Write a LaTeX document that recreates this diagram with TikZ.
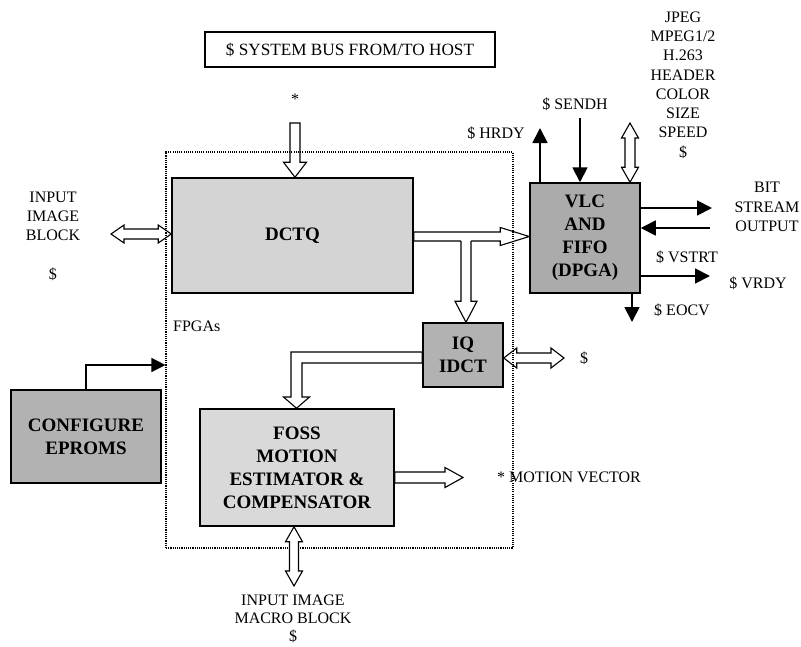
\documentclass[tikz,border=0pt]{standalone}
\usepackage{fontspec}
\setmainfont{Liberation Serif}
\usetikzlibrary{calc,arrows.meta}

\newcommand\lblfont{\fontsize{16}{19.3}\selectfont}
\newcommand\tightfont{\fontsize{16}{18.2}\selectfont}
\newcommand\busfont{\fontsize{17.2}{20}\selectfont}
\newcommand\blkfont{\fontsize{19}{23}\selectfont\bfseries}

% outlined arrow with one head: from #1 to #2, half shaft #3, half head #4, head length #5
\newcommand\hollowsingle[5]{%
  \coordinate (hsc) at ($(#2)!#5!(#1)$);
  \draw[hollow] ($(#1)!#3!90:(#2)$) -- ($(hsc)!#3!90:(#2)$) -- ($(hsc)!#4!90:(#2)$)
    -- (#2) -- ($(hsc)!#4!-90:(#2)$) -- ($(hsc)!#3!-90:(#2)$) -- ($(#1)!#3!-90:(#2)$) -- cycle;}

% outlined arrow with a head at both ends
\newcommand\hollowdouble[5]{%
  \coordinate (hda) at ($(#1)!#5!(#2)$);
  \coordinate (hdb) at ($(#2)!#5!(#1)$);
  \draw[hollow] (#1) -- ($(hda)!#4!90:(#2)$) -- ($(hda)!#3!90:(#2)$) -- ($(hdb)!#3!90:(#2)$)
    -- ($(hdb)!#4!90:(#2)$) -- (#2) -- ($(hdb)!#4!-90:(#2)$) -- ($(hdb)!#3!-90:(#2)$)
    -- ($(hda)!#3!-90:(#2)$) -- ($(hda)!#4!-90:(#2)$) -- cycle;}

\tikzset{
  blk/.style={draw, line width=1.5pt, align=center, font=\blkfont, inner sep=0pt},
  hollow/.style={draw, fill=white, line width=1.1pt, line join=miter},
  solidarr/.style={line width=1.8pt, -{Triangle[length=15pt,width=15pt]}},
  lbl/.style={font=\lblfont, align=center, inner sep=0pt},
  fpgabox/.style={draw, line width=1.1pt, dash pattern=on 1.1pt off 1.1pt, inner sep=0pt},
}

\begin{document}
\begin{tikzpicture}[x=1pt,y=-1pt]
\useasboundingbox (0,0) rectangle (801,646);

% blocks
\node[blk, minimum width=241pt, minimum height=115pt, fill=black!17] (dctq) at (292.5,235.5) {DCTQ};
\node[blk, minimum width=110pt, minimum height=110pt, fill=black!33] (vlc) at (585,238) {VLC\\AND\\FIFO\\(DPGA)};
\node[blk, minimum width=80pt, minimum height=64pt, fill=black!30] (iq) at (463,355) {IQ\\IDCT};
\node[blk, minimum width=194pt, minimum height=117pt, fill=black!15] (foss) at (297,467.5) {FOSS\\MOTION\\ESTIMATOR \&\\COMPENSATOR};
\node[blk, minimum width=150pt, minimum height=93pt, fill=black!30] (eprom) at (86,436.5) {CONFIGURE\\EPROMS};
\node[draw, line width=1.5pt, minimum width=290pt, minimum height=35pt, font=\busfont, inner sep=0pt] (bus) at (350,49.5) {\$ SYSTEM BUS FROM/TO HOST};

% labels
\node[lbl, anchor=base] (star) at (295,104) {*};
\node[lbl] (inblock) at (53,236) {INPUT\\IMAGE\\BLOCK\\[19.3pt]\$};
\node[lbl] (formats) at (683,85) {JPEG\\MPEG1/2\\H.263\\HEADER\\COLOR\\SIZE\\SPEED\\\$};
\node[lbl] (hrdy) at (496,133) {\$ HRDY};
\node[lbl] (sendh) at (575,104) {\$ SENDH};
\node[lbl] (bitout) at (767,207) {BIT\\STREAM\\OUTPUT};
\node[lbl] (vstrt) at (687,257) {\$ VSTRT};
\node[lbl] (vrdy) at (758,283) {\$ VRDY};
\node[lbl] (eocv) at (682,310) {\$ EOCV};
\node[lbl, anchor=west] (fpgas) at (173,326) {FPGAs};
\node[lbl] (iqbus) at (584,358) {\$};
\node[lbl, anchor=west] (mv) at (497,477.5) {* MOTION VECTOR};
\node[lbl, font=\tightfont] (macro) at (293,619) {INPUT IMAGE\\MACRO BLOCK\\\$};

% solid signal arrows around the VLC block
\coordinate (hrdyTop) at (540,128);
\draw[solidarr] (hrdyTop |- vlc.north) -- (hrdyTop);
\coordinate (sendhTop) at (580,118);
\draw[solidarr] (sendhTop) -- (sendhTop |- vlc.north);
\coordinate (bsEnd) at (712,208);
\draw[solidarr] (vlc.east |- bsEnd) -- (bsEnd);
\coordinate (vsStart) at (710,228);
\draw[solidarr] (vsStart) -- (vlc.east |- vsStart);
\coordinate (vrEnd) at (710,276);
\draw[solidarr] (vlc.east |- vrEnd) -- (vrEnd);
\coordinate (eoEnd) at (632,322);
\draw[solidarr] (eoEnd |- vlc.south) -- (eoEnd);

% header parameter bus
\coordinate (hdrTop) at (630,123);
\coordinate (hdrBot) at (hdrTop |- vlc.north);
\hollowdouble{hdrTop}{hdrBot}{5pt}{8.5pt}{15pt}

% system bus into DCTQ
\coordinate (busIn) at (295,123);
\coordinate (busOut) at (busIn |- dctq.north);
\hollowsingle{busIn}{busOut}{5pt}{11.5pt}{15pt}

% input image block
\coordinate (ibEnd) at (111,234);
\coordinate (ibBox) at (dctq.west |- ibEnd);
\hollowdouble{ibEnd}{ibBox}{5pt}{9pt}{13pt}

% DCTQ to VLC with branch down to IQ/IDCT
\coordinate (dvY) at (0,236.5);
\coordinate (dvA) at (dctq.east |- dvY);
\coordinate (dvB) at (vlc.west |- dvY);
\hollowsingle{dvA}{dvB}{4.5pt}{9pt}{29pt}
\coordinate (brTop) at (466,241);
\coordinate (brTip) at (brTop |- iq.north);
\fill[white] ($(brTop)+(-5,-4)$) -- ($(brTip)+(-5,-21)$) -- ($(brTip)+(5,-21)$) -- ($(brTop)+(5,-4)$) -- cycle;
\draw[line width=1.1pt, line join=miter, fill=white]
  ($(brTop)+(-5,0)$) -- ($(brTip)+(-5,-21)$) -- ($(brTip)+(-11,-21)$) -- (brTip)
  -- ($(brTip)+(11,-21)$) -- ($(brTip)+(5,-21)$) -- ($(brTop)+(5,0)$);

% IQ/IDCT feedback to the motion estimator
\coordinate (lc) at (291,352);
\coordinate (lTip) at ($(lc |- foss.north)+(5.5,0)$);
\draw[hollow] (iq.west |- lc) -- (lc) -- ($(lc)+(0,45)$) -- ($(lc)+(-7.5,45)$) -- (lTip)
  -- ($(lc)+(18.5,45)$) -- ($(lc)+(11,45)$) -- ($(lc)+(11,11)$) -- ($(iq.west |- lc)+(0,11)$) -- cycle;

% IQ/IDCT external port
\coordinate (iqR) at (564,358);
\coordinate (iqE) at (iq.east |- iqR);
\hollowdouble{iqE}{iqR}{5pt}{10pt}{13pt}

% motion vector output
\coordinate (mvTip) at (463,477.5);
\coordinate (mvA) at (foss.east |- mvTip);
\hollowsingle{mvA}{mvTip}{5.5pt}{10pt}{18pt}

% FPGA boundary
\node[fpgabox, minimum width=347pt, minimum height=396pt] (fpga) at (339.5,350) {};

% configuration path
\coordinate (cfgIn) at (fpga.west |- 0,365);
\draw[line width=1.3pt, -{Triangle[length=14pt,width=14pt]}] (eprom.north) |- (cfgIn);

% input image macro block
\coordinate (mbEnd) at (294,586);
\coordinate (mbTop) at (mbEnd |- foss.south);
\hollowdouble{mbTop}{mbEnd}{4.5pt}{8.5pt}{15pt}
\end{tikzpicture}
\end{document}
